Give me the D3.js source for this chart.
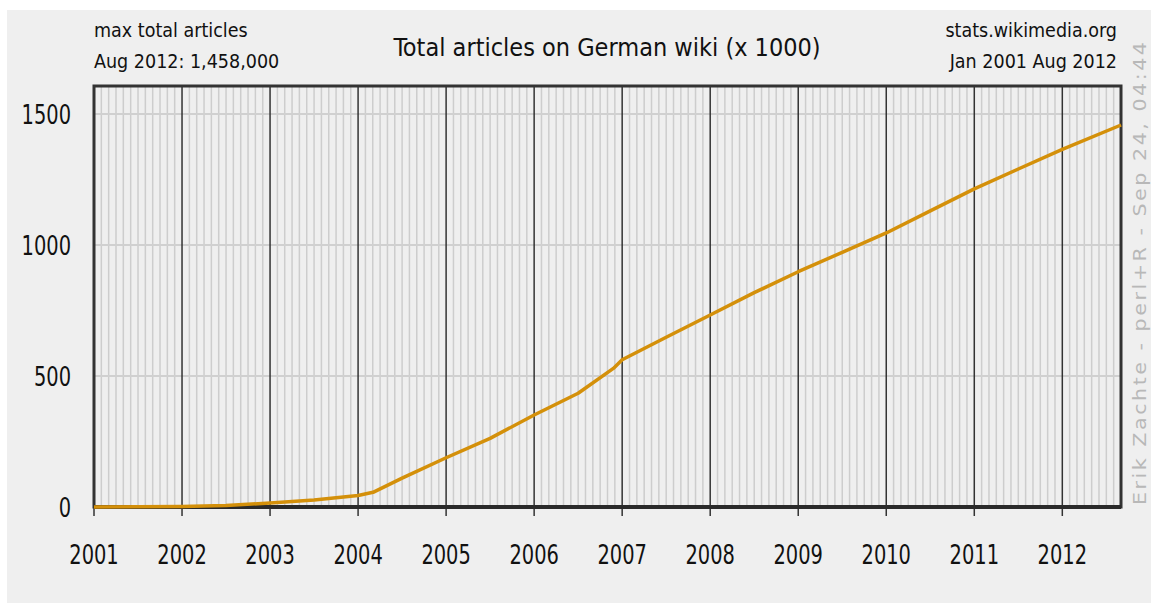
<!DOCTYPE html>
<meta charset="utf-8">
<script src="https://d3js.org/d3.v7.min.js"></script>
<style>
  body { margin: 0; background: #fff; }
  text { font-family: "DejaVu Sans Condensed", "DejaVu Sans", sans-serif; }
</style>
<body>
<div id="chart"></div>
<script>

// month (decimal year) and total articles (x 1000)
var months = [2001.0, 2001.5, 2002.0, 2002.5, 2003.0, 2003.5, 2004.0, 2004.17,
              2004.5, 2005.0, 2005.5, 2006.0, 2006.5, 2006.9, 2007.0, 2007.25,
              2007.5, 2008.0, 2008.5, 2009.0, 2009.5, 2010.0, 2010.5, 2011.0,
              2011.5, 2012.0, 2012.667];
var articles = [0, 0.5, 2, 6, 15, 27, 44, 56,
                110, 188, 262, 351, 434, 529, 562, 605,
                648, 733, 818, 898, 972, 1046, 1130, 1214,
                1290, 1365, 1458];

var yearLabels = [2001, 2002, 2003, 2004, 2005, 2006, 2007, 2008, 2009, 2010, 2011, 2012];
var yTicks = [0, 500, 1000, 1500];

var width = 1151, height = 603;

var svg = d3.select("#chart").append("svg")
    .attr("width", width)
    .attr("height", height);

// background
svg.append("rect")
    .attr("x", 7).attr("y", 10)
    .attr("width", width - 7).attr("height", height - 10)
    .attr("fill", "#efefef");

var x = d3.scaleLinear()
    .domain([2001, 2012 + 8 / 12])
    .range([94, 1121]);

var y = d3.scaleLinear()
    .domain([0, 1600])
    .range([507, 87.8]);

var plotTop = 86, plotBottom = 507;

// monthly minor grid
var monthTicks = d3.range(0, 140).map(function(i) { return 2001 + i / 12; })
    .filter(function(m, i) { return i % 12 != 0; });
svg.append("g").selectAll("line")
  .data(monthTicks)
  .enter().append("line")
    .attr("x1", function(d) { return x(d); })
    .attr("x2", function(d) { return x(d); })
    .attr("y1", plotTop)
    .attr("y2", plotBottom)
    .attr("stroke", "#cdcdcd")
    .attr("stroke-width", 1.5);

// horizontal grid
svg.append("g").selectAll("line")
  .data(yTicks.slice(1))
  .enter().append("line")
    .attr("x1", x.range()[0])
    .attr("x2", x.range()[1])
    .attr("y1", function(d) { return y(d); })
    .attr("y2", function(d) { return y(d); })
    .attr("stroke", "#d0d0d0")
    .attr("stroke-width", 2);

// yearly lines
svg.append("g").selectAll("line")
  .data(yearLabels)
  .enter().append("line")
    .attr("x1", function(d) { return x(d); })
    .attr("x2", function(d) { return x(d); })
    .attr("y1", plotTop)
    .attr("y2", plotBottom + 9)
    .attr("stroke", "#333")
    .attr("stroke-width", 1.5);

// frame
svg.append("rect")
    .attr("x", x.range()[0])
    .attr("y", plotTop)
    .attr("width", x.range()[1] - x.range()[0])
    .attr("height", plotBottom - plotTop)
    .attr("fill", "none")
    .attr("stroke", "#333")
    .attr("stroke-width", 3);

svg.append("line")
    .attr("x1", x.range()[0]).attr("x2", x.range()[1])
    .attr("y1", plotBottom).attr("y2", plotBottom)
    .attr("stroke", "#2a2a2a")
    .attr("stroke-width", 4);

// the data line
var line = d3.line()
    .x(function(d, i) { return x(months[i]); })
    .y(function(d) { return y(d); });

svg.append("path")
    .datum(articles)
    .attr("d", line)
    .attr("fill", "none")
    .attr("stroke", "#d4900a")
    .attr("stroke-width", 3.5)
    .attr("stroke-linejoin", "round");

// helper for text, sx squeezes it horizontally
function label(tx, ty, str, size, anchor, sx) {
  return svg.append("text")
    .attr("transform", "translate(" + tx + "," + ty + ") scale(" + sx + ",1)")
    .attr("font-size", size + "px")
    .attr("text-anchor", anchor)
    .attr("fill", "#111")
    .text(str);
}

// x labels
yearLabels.forEach(function(yr) {
  label(x(yr), 564, yr, 27, "middle", 0.8);
});

// y labels
yTicks.forEach(function(v) {
  label(71, y(v) + 10, v, 27, "end", 0.8);
});

// header
label(94, 37, "max total articles", 19.5, "start", 1);
label(94, 68, "Aug 2012: 1,458,000", 19.5, "start", 1);
label(607, 56, "Total articles on German wiki (x 1000)", 25, "middle", 1);
label(1117, 37, "stats.wikimedia.org", 19.5, "end", 1);
label(1117, 68, "Jan 2001 Aug 2012", 19.5, "end", 1);

// credit on the right side
svg.append("text")
    .attr("transform", "translate(1146,505) scale(0.8,1) rotate(-90)")
    .attr("font-size", "23px")
    .attr("font-family", "DejaVu Sans, sans-serif")
    .attr("letter-spacing", "2.5px")
    .attr("fill", "#b8b8b8")
    .attr("text-anchor", "start")
    .text("Erik Zachte  -  perl+R  -  Sep 24, 04:44");

</script>
</body>
